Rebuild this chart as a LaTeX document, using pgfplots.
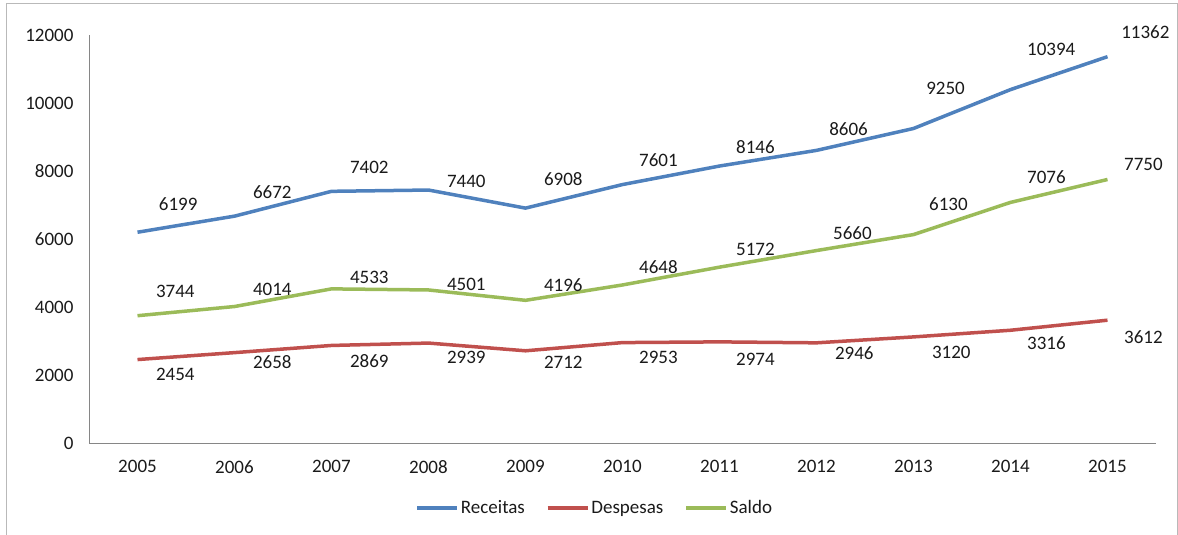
\documentclass[border=0pt]{standalone}
\usepackage{pgfplots}
\pgfplotsset{compat=1.18}
\usepackage{pgfplotstable}
\usepackage{fontspec}
\setmainfont{Carlito}
\definecolor{cblue}{HTML}{4F81BD}
\definecolor{cred}{HTML}{C0504D}
\definecolor{cgreen}{HTML}{9BBB59}
\definecolor{caxis}{HTML}{868686}
\definecolor{ctext}{HTML}{1A1A1A}

\pgfplotstableread{
year val
2005 6199
2006 6672
2007 7402
2008 7440
2009 6908
2010 7601
2011 8146
2012 8606
2013 9250
2014 10394
2015 11362
}\receitas
\pgfplotstableread{
year val
2005 2454
2006 2658
2007 2869
2008 2939
2009 2712
2010 2953
2011 2974
2012 2946
2013 3120
2014 3316
2015 3612
}\despesas
\pgfplotstableread{
year val
2005 3744
2006 4014
2007 4533
2008 4501
2009 4196
2010 4648
2011 5172
2012 5660
2013 6130
2014 7076
2015 7750
}\saldo
% label positions
\pgfplotstableread{
x y label
2005.42 7029 6199
2006.39 7382 6672
2007.39 8118 7402
2008.39 7706 7440
2009.39 7765 6908
2010.37 8324 7601
2011.37 8706 8146
2012.33 9235 8606
2013.33 10441 9250
2014.42 11588 10394
2015.39 12088 11362
}\lreceitas
\pgfplotstableread{
x y label
2005.39 2029 2454
2006.39 2382 2658
2007.39 2412 2869
2008.39 2529 2939
2009.39 2382 2712
2010.37 2529 2953
2011.37 2471 2974
2012.39 2647 2946
2013.39 2676 3120
2014.37 2941 3316
2015.37 3118 3612
}\ldespesas
\pgfplotstableread{
x y label
2005.39 4471 3744
2006.39 4529 4014
2007.39 4882 4533
2008.39 4676 4501
2009.39 4647 4196
2010.37 5176 4648
2011.37 5706 5172
2012.37 6176 5660
2013.36 7029 6130
2014.37 7824 7076
2015.37 8206 7750
}\lsaldo

\begin{document}
\begin{tikzpicture}
\useasboundingbox (0,0) rectangle (1178pt,535pt);
\draw[gray!55, line width=1pt] (6pt,0) -- (6pt,531pt) -- (1177pt,531pt) -- (1177pt,0);
\begin{axis}[
  at={(89pt,92pt)}, anchor=south west,
  scale only axis, width=1067pt, height=408pt,
  xmin=2004.5, xmax=2015.5, ymin=0, ymax=12000,
  clip=false,
  axis lines*=left,
  axis line style={caxis, line width=0.9pt, -},
  xtick={2005,...,2015},
  xticklabels={2005,2006,2007,2008,2009,2010,2011,2012,2013,2014,2015},
  ytick={0,2000,...,12000},
  scaled y ticks=false,
  yticklabels={0,2000,4000,6000,8000,10000,12000},
  major tick length=0pt,
  tick style={draw=none},
  font=\fontsize{19}{23}\selectfont,
  every tick label/.append style={text=ctext, font=\fontsize{19}{23}\selectfont},
  /pgf/number format/assume math mode=true,
  /pgf/number format/1000 sep={},
  yticklabel style={xshift=-12pt},
  xticklabel style={yshift=-14pt},
  legend style={at={(0.474,-0.159)}, anchor=center, draw=none, fill=none,
    legend columns=3, font=\fontsize{19}{23}\selectfont, text=ctext,
    /tikz/every even column/.append style={column sep=19pt}},
  legend image code/.code={\draw[#1, line width=3.5pt] (0pt,0pt) -- (40pt,0pt);},
  nodes near coords style={anchor=center, text=ctext, font=\fontsize{19}{23}\selectfont},
]
\addplot[cblue, line width=3.5pt, no marks] table[x=year, y=val] {\receitas};
\addlegendentry{Receitas}
\addplot[cred, line width=3.5pt, no marks] table[x=year, y=val] {\despesas};
\addlegendentry{Despesas}
\addplot[cgreen, line width=3.5pt, no marks] table[x=year, y=val] {\saldo};
\addlegendentry{Saldo}
\addplot[draw=none, no marks, nodes near coords, point meta=explicit symbolic, forget plot]
  table[x=x, y=y, meta=label] {\lreceitas};
\addplot[draw=none, no marks, nodes near coords, point meta=explicit symbolic, forget plot]
  table[x=x, y=y, meta=label] {\ldespesas};
\addplot[draw=none, no marks, nodes near coords, point meta=explicit symbolic, forget plot]
  table[x=x, y=y, meta=label] {\lsaldo};
\end{axis}
\end{tikzpicture}
\end{document}
